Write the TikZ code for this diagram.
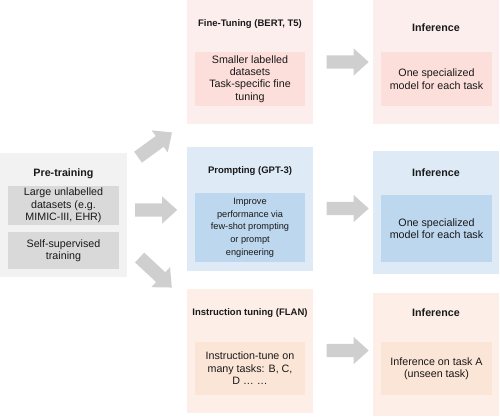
\documentclass[tikz,border=0pt]{standalone}
\usepackage{fontspec}
\setmainfont{Liberation Sans}
\usetikzlibrary{shapes.arrows}
\definecolor{ftOuter}{RGB}{253,238,238}
\definecolor{ftInner}{RGB}{252,222,218}
\definecolor{prOuter}{RGB}{222,235,247}
\definecolor{prInner}{RGB}{189,215,238}
\definecolor{itOuter}{RGB}{253,239,232}
\definecolor{itInner}{RGB}{251,229,214}
\definecolor{ptOuter}{RGB}{242,242,242}
\definecolor{ptInner}{RGB}{217,217,217}
\definecolor{arrowGray}{RGB}{208,207,207}
\definecolor{txt}{RGB}{25,25,25}
\tikzset{
  box/.style={draw=none, anchor=north west, inner sep=0pt, outer sep=0pt, text=txt, align=center},
  body/.style={box, font=\fontsize{10.7}{12.4}\selectfont},
  smallbody/.style={box, font=\fontsize{9.2}{12.7}\selectfont},
  title/.style={inner sep=0pt, text=txt, font=\fontsize{9.5}{11}\selectfont\bfseries},
  bigtitle/.style={inner sep=0pt, text=txt, font=\fontsize{10.7}{12}\selectfont\bfseries},
  fat/.style={single arrow, draw=none, fill=arrowGray, inner xsep=0pt, inner ysep=6.5pt,
    minimum height=42pt, single arrow head extend=7pt,
    single arrow tip angle=84, single arrow head indent=0pt}
}
\begin{document}
\begin{tikzpicture}[x=1pt,y=-1pt]
\useasboundingbox (0,0) rectangle (500,417);
% outer boxes
\node[box, fill=ftOuter, minimum width=126pt, minimum height=124pt] (ft) at (187,0) {};
\node[box, fill=ftOuter, minimum width=126pt, minimum height=124pt] (inf1) at (373,0) {};
\node[box, fill=prOuter, minimum width=126pt, minimum height=124pt] (pr) at (187,147) {};
\node[box, fill=prOuter, minimum width=126pt, minimum height=123pt] (inf2) at (373,151) {};
\node[box, fill=itOuter, minimum width=126pt, minimum height=124pt] (it) at (187,289) {};
\node[box, fill=itOuter, minimum width=126pt, minimum height=123pt] (inf3) at (373,293) {};
\node[box, fill=ptOuter, minimum width=127pt, minimum height=124pt] (pt) at (0,153) {};
% titles
\node[title] (ftT) at (250,24) {Fine-Tuning (BERT, T5)};
\node[bigtitle] (inf1T) at (436,28) {Inference};
\node[title] (prT) at (250,171) {Prompting (GPT-3)};
\node[bigtitle] (inf2T) at (436,173) {Inference};
\node[title] (itT) at (250,313) {Instruction tuning (FLAN)};
\node[bigtitle] (inf3T) at (436,313) {Inference};
\node[bigtitle] (ptT) at (63.5,174) {Pre-training};
% inner boxes
\node[body, fill=ftInner, minimum width=110pt, minimum height=54pt] (ftI) at (195,52) {Smaller labelled\\datasets\\Task-specific fine\\tuning};
\node[body, fill=ftInner, minimum width=111pt, minimum height=54pt] (inf1I) at (381,52) {One specialized\\model for each task};
\node[smallbody, fill=prInner, minimum width=110pt, minimum height=69pt] (prI) at (195,193) {Improve\\performance via\\few-shot prompting\\or prompt\\engineering};
\node[body, fill=prInner, minimum width=111pt, minimum height=67pt] (inf2I) at (381,195) {One specialized\\model for each task};
\node[body, fill=itInner, minimum width=110pt, minimum height=53pt] (itI) at (195,342) {Instruction-tune on\\many tasks: B, C,\\D \dots\ \dots};
\node[body, fill=itInner, minimum width=111pt, minimum height=53pt] (inf3I) at (381,342) {Inference on task A\\(unseen task)};
\node[body, fill=ptInner, minimum width=111pt, minimum height=39pt] (pt1) at (8,186) {Large unlabelled\\datasets (e.g.\\MIMIC-III, EHR)};
\node[body, fill=ptInner, minimum width=111pt, minimum height=37pt] (pt2) at (8,232) {Self-supervised\\training};
% fat arrows
\node[fat, rotate=36] (aUp) at (152,147) {};
\node[fat] (aMid) at (152.5,210) {};
\node[fat, rotate=-43, minimum height=44pt] (aDown) at (153,270) {};
\node[fat] (aR1) at (344,62) {};
\node[fat] (aR2) at (344,208.5) {};
\node[fat] (aR3) at (344,350.5) {};
\end{tikzpicture}
\end{document}
